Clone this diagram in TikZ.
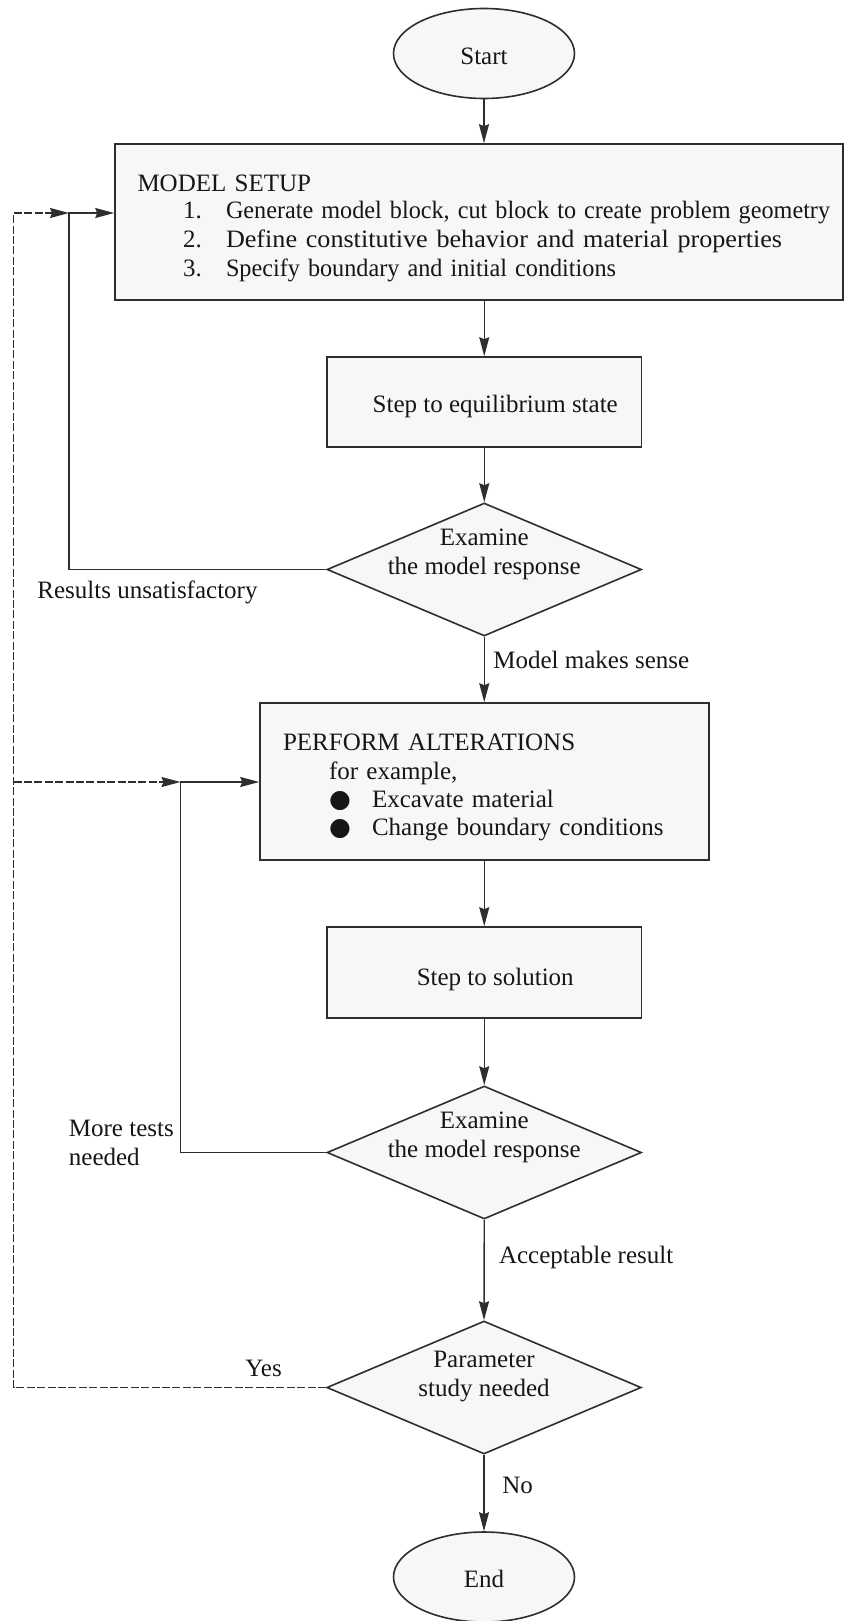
\documentclass[tikz,border=0pt]{standalone}
\usepackage{fontspec}
\setmainfont{Liberation Serif}
\newfontfamily\symfont{DejaVu Sans}
\usetikzlibrary{shapes.geometric,arrows.meta}

\definecolor{linec}{HTML}{2E2E2E}
\definecolor{boxfill}{HTML}{F6F8F8}
\definecolor{txt}{HTML}{161616}

% two-line caption for a decision diamond, kept out of the shape size
\newcommand\dtext[2][4.5pt]{\raisebox{#1}[0pt][0pt]{\makebox[0pt]{\begin{tabular}{@{}c@{}}#2\end{tabular}}}}
% numbered entry inside the setup block, set to a given width
\newcommand\stepitem[3]{\mbox{\hspace*{22.75pt}\makebox[21.5pt][l]{#1}\resizebox{#2}{\height}{#3}}}
% bulleted entry inside the alterations block
\newcommand\bulitem[1]{\mbox{\hspace*{23pt}\makebox[21.5pt][l]{\symfont ●}#1}}
% single-line caption lowered inside its shape, keeping its size
\newcommand\low[2][2.2pt]{\raisebox{-#1}[\height][\depth]{#2}}

\tikzset{
  base/.style={draw=linec, line width=0.8pt, fill=boxfill, inner sep=0pt},
  term/.style={base, ellipse, minimum width=90.5pt, minimum height=45pt},
  procbox/.style={base, rectangle},
  decision/.style={base, diamond, minimum width=157.25pt, minimum height=66.5pt},
  tip/.style={-{Stealth[length=9.5pt,width=5pt,inset=1pt]}},
  flow/.style={draw=linec, line width=0.7pt, tip},
  loopback/.style={draw=linec, line width=0.7pt, dash pattern=on 4pt off 1.2pt, tip},
  lbl/.style={inner sep=0pt, anchor=west},
}

\begin{document}
\begin{tikzpicture}[x=0.5pt, y=-0.5pt, font=\fontsize{12.5}{14.5}\selectfont, text=txt]
\useasboundingbox (0,0) rectangle (845,1621);

% main column
\node[term] (start) at (484,53.5) {\low[1.5pt]{Start}};
\node[procbox, minimum width=364pt, minimum height=78pt, text width=341.5pt, align=left]
  (setup) at (479,222) {\rule{0pt}{14.5pt}MODEL SETUP\\[-1pt]
  \stepitem{1.}{302pt}{Generate model block, cut block to create problem geometry}\\
  \stepitem{2.}{278pt}{Define constitutive behavior and material properties}\\
  \stepitem{3.}{195pt}{Specify boundary and initial conditions}};
\node[procbox, minimum width=157.25pt, minimum height=45pt] (equil) at (484.25,402)
  {\low[2.1pt]{\hspace*{11pt}Step to equilibrium state}};
\node[decision] (exam1) at (484.25,569.5) {\dtext{Examine\\the model response}};
\node[procbox, minimum width=224.5pt, minimum height=78.5pt, text width=201.5pt, align=left]
  (alter) at (484.5,781.5) {\rule{0pt}{14pt}PERFORM ALTERATIONS\\
  \hspace*{23pt}for example,\\[-0.5pt]
  \bulitem{Excavate material}\\[-0.5pt]
  \bulitem{Change boundary conditions}};
\node[procbox, minimum width=157.25pt, minimum height=45.5pt] (solve) at (484.25,972.5)
  {\low[3.5pt]{\hspace*{11pt}Step to solution}};
\node[decision] (exam2) at (484.25,1152.5) {\dtext{Examine\\the model response}};
\node[decision] (param) at (484,1387.5) {\dtext[2.5pt]{Parameter\\study needed}};
\node[term] (end) at (484,1577) {\low[1pt]{End}};

% forward flow
\draw[flow] (start.south) -- (start.south |- setup.north);
\draw[flow] (equil.north |- setup.south) -- (equil.north);
\draw[flow] (equil.south) -- (exam1.north);
\draw[flow] (exam1.south) -- (exam1.south |- alter.north);
\draw[flow] (solve.north |- alter.south) -- (solve.north);
\draw[flow] (solve.south) -- (exam2.north);
\draw[flow] (exam2.south) -- (param.north);
\draw[flow] (param.south) -- (end.north);

% feedback loops
\coordinate (j1) at (69,213);
\coordinate (j2) at (180.5,782);
\coordinate (d0) at (13.5,213);
\coordinate (d1) at (13.5,782);
\draw[flow] (exam1.west) -| (j1) -- (j1 -| setup.west);
\draw[flow] (exam2.west) -| (j2) -- (j2 -| alter.west);
\draw[loopback] (param.west) -| (d0) -- (j1);
\draw[loopback] (d1) -- (j2);

% branch labels
\node[lbl] (lsense) at (493,660) {Model makes sense};
\node[lbl] (lunsat) at (37,592) {Results unsatisfactory};
\node[lbl, align=left] (lmore) at (68.5,1142.5) {More tests\\needed};
\node[lbl] (lacc) at (498.6,1257) {Acceptable result};
\node[lbl] (lyes) at (245,1368) {Yes};
\node[lbl] (lno) at (502,1485) {No};
\end{tikzpicture}
\end{document}
